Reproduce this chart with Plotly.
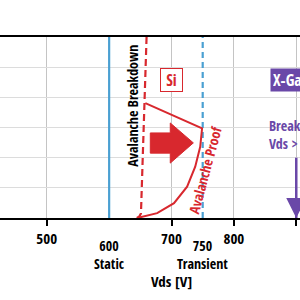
import plotly.graph_objects as go

FONT = "Open Sans Condensed, Roboto, sans-serif"
RED = "#d8282e"
BLUE = "#4aa0d2"
PURPLE = "#6a48a8"

# Tick values / labels
tick_vals = [500, 700, 800, 900]
tick_text = ["500", "700", "800", "900"]
special_ticks = [600, 750]
special_text = ["600<br>Static", "750<br>Transient"]

# Reference lines
static_v = 600
transient_v = 750
xgan_v = 900

# Si avalanche breakdown (dashed)
brk_x = [660, 651, 648, 644]
brk_y = [6.0, 0.15, 0.04, 0.0]

# Si avalanche-proof envelope (solid)
proof_x = [658, 749, 749, 746, 738, 725, 704, 677, 645]
proof_y = [3.81, 2.98, 2.97, 2.36, 1.70, 1.04, 0.49, 0.16, 0.0]

# Block arrow outline
arrow_x = [666, 698, 698, 735, 698, 698, 666, 666]
arrow_y = [2.82, 2.82, 3.15, 2.49, 1.82, 2.15, 2.15, 2.82]

# X-GaN breakdown arrow
xgan_arrow_y = [2.0, 0.0]

fig = go.Figure()

fig.add_trace(go.Scatter(x=[static_v, static_v], y=[0, 6], mode="lines",
                         line=dict(color=BLUE, width=2.2), hoverinfo="skip"))
fig.add_trace(go.Scatter(x=[transient_v, transient_v], y=[0, 6], mode="lines",
                         line=dict(color=BLUE, width=2.2, dash="6px,4px"), hoverinfo="skip"))
fig.add_trace(go.Scatter(x=brk_x, y=brk_y, mode="lines",
                         line=dict(color=RED, width=2.2, dash="7px,4px"), hoverinfo="skip"))
fig.add_trace(go.Scatter(x=proof_x, y=proof_y, mode="lines",
                         line=dict(color=RED, width=2), hoverinfo="skip"))
fig.add_trace(go.Scatter(x=arrow_x, y=arrow_y, mode="lines", fill="toself",
                         fillcolor=RED, line=dict(color=RED, width=1), hoverinfo="skip"))
fig.add_trace(go.Scatter(x=[xgan_v, xgan_v], y=xgan_arrow_y, mode="lines",
                         line=dict(color=PURPLE, width=2.5), hoverinfo="skip"))

# Purple arrowhead
fig.add_annotation(x=xgan_v, y=0.0, ax=xgan_v, ay=0.5, xref="x", yref="y", axref="x", ayref="y",
                   showarrow=True, arrowhead=2, arrowsize=1.6, arrowwidth=2.5,
                   arrowcolor=PURPLE, text="")

# Texts
fig.add_annotation(x=638, y=3.72, text="Avalanche Breakdown", textangle=-90, showarrow=False,
                   font=dict(family=FONT, size=14, color="black", weight="bold"))
fig.add_annotation(x=753, y=1.59, text="Avalanche Proof", textangle=-75, showarrow=False,
                   font=dict(family=FONT, size=14, color=RED, weight="bold"))
fig.add_annotation(x=700, y=4.57, text="Si", showarrow=False, bgcolor="white",
                   bordercolor=RED, borderwidth=1, borderpad=2, width=17, height=18,
                   font=dict(family=FONT, size=16, color=RED, weight="bold"))
fig.add_annotation(x=858, y=4.57, xanchor="left", text="X-GaN", showarrow=False,
                   bgcolor=PURPLE, borderpad=2, height=18,
                   font=dict(family=FONT, size=16, color="white", weight="bold"))
fig.add_annotation(x=853, y=2.77, xanchor="left", align="left", text="Breakdown<br>Vds > 900V",
                   showarrow=False, font=dict(family=FONT, size=14, color=PURPLE, weight="bold"))

# Special tick labels (lower, two-line)
for v, t in zip(special_ticks, special_text):
    fig.add_annotation(x=v, y=0, yref="y", yshift=-16, yanchor="top", text=t, showarrow=False,
                       font=dict(family=FONT, size=14, color="black", weight="bold"))
    fig.add_shape(type="line", x0=v, x1=v, y0=0, y1=-0.33, xref="x", yref="y",
                  line=dict(color="black", width=2))

fig.add_annotation(x=700, y=-0.35, yref="paper", yanchor="middle", text="Vds [V]", showarrow=False,
                   font=dict(family=FONT, size=15, color="black", weight="bold"))

fig.update_layout(
    width=300, height=300, margin=dict(l=0, r=0, t=37, b=82),
    paper_bgcolor="white", plot_bgcolor="white", showlegend=False,
    xaxis=dict(range=[425, 906], tickvals=tick_vals, ticktext=tick_text, automargin=False,
               showgrid=True, gridcolor="#c4c4c4", gridwidth=1,
               showline=True, linecolor="black", linewidth=2, mirror=True,
               ticks="outside", ticklen=6, tickwidth=2, tickcolor="black",
               tickfont=dict(family=FONT, size=15, color="black", weight="bold"),
               zeroline=False, fixedrange=True),
    yaxis=dict(range=[0, 6], dtick=1, showgrid=True, gridcolor="#dcdcdc", gridwidth=1,
               automargin=False,
               showticklabels=False, zeroline=False, showline=False, fixedrange=True),
)

fig.write_html("out.html")
